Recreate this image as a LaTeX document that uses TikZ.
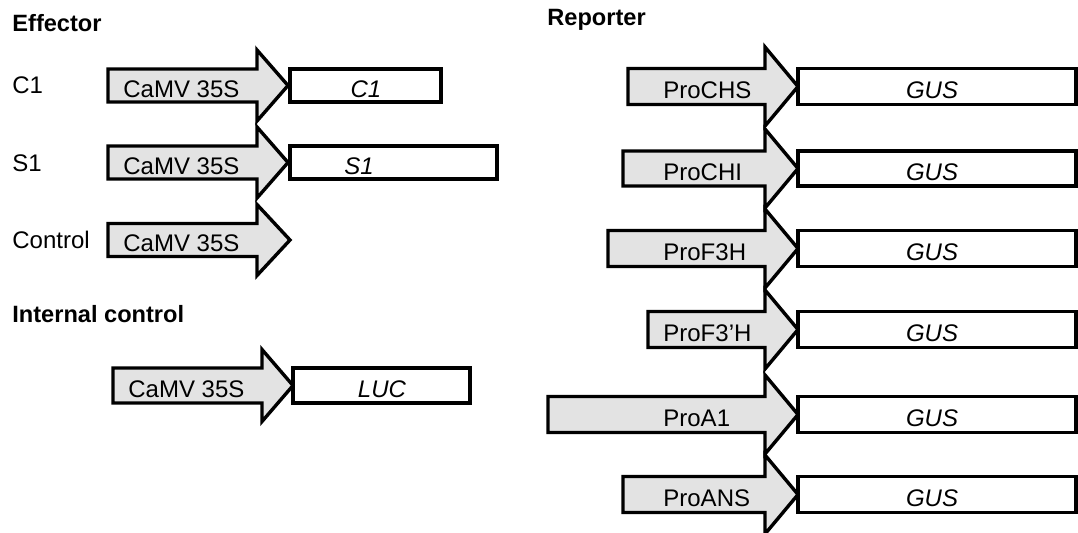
\documentclass[tikz,border=0pt]{standalone}
\usepackage{fontspec}
\setmainfont{Liberation Sans}
\definecolor{promfill}{HTML}{E3E3E3}
\tikzset{
  prombody/.style={draw=black, fill=promfill, line width=1.7pt, line join=miter},
  genebox/.style={draw=black, fill=white, line width=1.7pt},
  lbl/.style={inner sep=0pt, anchor=base west, font=\fontsize{12}{14}\selectfont},
  glbl/.style={inner sep=0pt, anchor=base, font=\fontsize{12}{14}\selectfont\itshape},
  ttl/.style={inner sep=0pt, anchor=base west, font=\fontsize{11.8}{14}\selectfont\bfseries},
}
% #1 left x, #2 shaft x, #3 tip x, #4 centre y, #5 half body, #6 half head
\newcommand\drawprom[6]{%
  \draw[prombody] (#1,#4-#5) -- (#2,#4-#5) -- (#2,#4-#6) -- (#3,#4) -- (#2,#4+#6) -- (#2,#4+#5) -- (#1,#4+#5) -- cycle;}
% #1 left x, #2 right x, #3 centre y, #4 half body
\newcommand\drawgene[4]{%
  \draw[genebox] (#1,#3-#4) rectangle (#2,#3+#4);}
\begin{document}
\begin{tikzpicture}[x=0.5pt, y=-0.5pt]
\useasboundingbox (0,0) rectangle (1078,532);
% titles
\node[ttl] (teff) at (12,31) {Effector};
\node[ttl] (tint) at (12,322) {Internal control};
\node[ttl] (trep) at (547,25) {Reporter};
% row labels
\node[lbl] (rc1) at (12,93.5) {C1};
\node[lbl] (rs1) at (12,171) {S1};
\node[lbl] (rctl) at (12,248) {Control};
% effectors
\drawprom{108}{257}{288}{85.5}{16.5}{35.5}
\drawgene{290}{441}{85.5}{16.5}
\node[lbl] (pc1) at (123,97) {CaMV 35S};
\node[glbl] (gc1) at (366,97) {C1};
\drawprom{108}{257}{288}{162.5}{16.5}{35.5}
\drawgene{290}{497}{162.5}{16.5}
\node[lbl] (ps1) at (123,174) {CaMV 35S};
\node[glbl] (gs1) at (359,174) {S1};
\drawprom{108}{257}{290}{240}{16.5}{35.5}
\node[lbl] (pctl) at (123,251.5) {CaMV 35S};
% internal control
\drawprom{113}{262}{293}{385.5}{17.5}{36}
\drawgene{293}{470}{385.5}{17.5}
\node[lbl] (pluc) at (128,397) {CaMV 35S};
\node[glbl] (gluc) at (382,397) {LUC};
% reporters
\drawprom{628}{765}{798}{86.5}{18}{39.5}
\drawgene{798}{1076}{86.5}{18}
\node[lbl] (pchs) at (663,98) {ProCHS};
\node[glbl] (gchs) at (932,98) {GUS};
\drawprom{623}{765}{798}{168.5}{17.5}{39.5}
\drawgene{798}{1076}{168.5}{17.5}
\node[lbl] (pchi) at (663,180) {ProCHI};
\node[glbl] (gchi) at (932,180) {GUS};
\drawprom{608}{765}{798}{248.5}{18}{39.5}
\drawgene{798}{1076}{248.5}{18}
\node[lbl] (pf3h) at (663,260) {ProF3H};
\node[glbl] (gf3h) at (932,260) {GUS};
\drawprom{648}{765}{798}{329.5}{18}{39.5}
\drawgene{798}{1076}{329.5}{18}
\node[lbl] (pf3ph) at (663,341) {ProF3’H};
\node[glbl] (gf3ph) at (932,341) {GUS};
\drawprom{548}{765}{798}{414.5}{18}{39.5}
\drawgene{798}{1076}{414.5}{18}
\node[lbl] (pa1) at (663,426) {ProA1};
\node[glbl] (ga1) at (932,426) {GUS};
\drawprom{623}{765}{798}{494.5}{18}{39.5}
\drawgene{798}{1076}{494.5}{18}
\node[lbl] (pans) at (663,506) {ProANS};
\node[glbl] (gans) at (932,506) {GUS};
\end{tikzpicture}
\end{document}
